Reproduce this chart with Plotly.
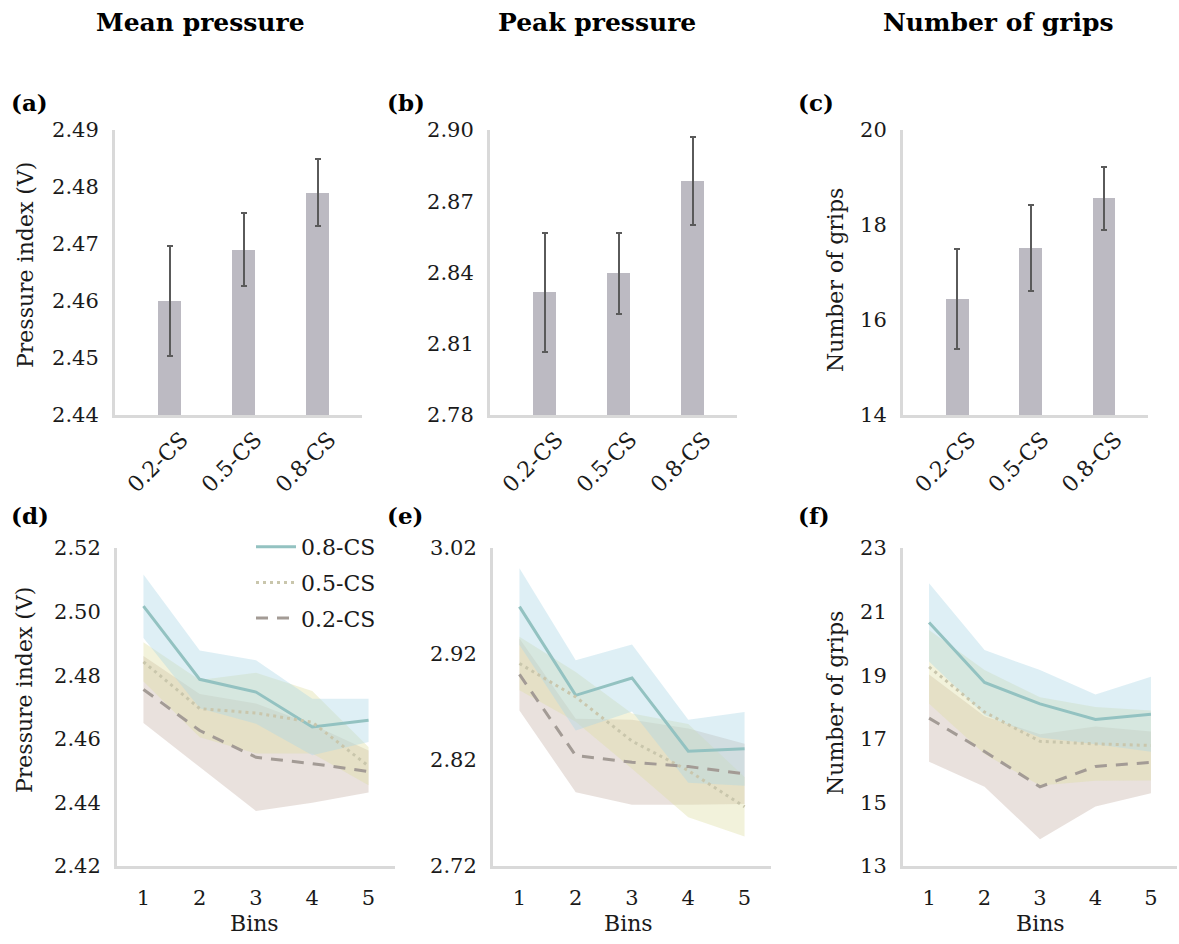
import plotly.graph_objects as go

# ---------------- data ----------------
conditions = ["0.2-CS", "0.5-CS", "0.8-CS"]
bins = [1, 2, 3, 4, 5]

# top row (bar charts): mean and error
bar_mean_pressure = [2.460, 2.469, 2.479]
bar_mean_pressure_err = [0.0097, 0.0064, 0.0059]
bar_peak_pressure = [2.8316, 2.8396, 2.8785]
bar_peak_pressure_err = [0.025, 0.0171, 0.0184]
bar_grips = [16.45, 17.52, 18.56]
bar_grips_err = [1.05, 0.90, 0.67]

# bottom row (lines with bands)
mp_08 = [2.5017, 2.4787, 2.4747, 2.4637, 2.4658]
mp_08_err = [0.0100, 0.0091, 0.0100, 0.0089, 0.0068]
mp_05 = [2.4842, 2.4695, 2.4681, 2.4652, 2.4514]
mp_05_err = [0.0062, 0.0090, 0.0127, 0.0098, 0.0060]
mp_02 = [2.4755, 2.4626, 2.4542, 2.4522, 2.4497]
mp_02_err = [0.0105, 0.0115, 0.0169, 0.0123, 0.0066]

pp_08 = [2.9647, 2.8810, 2.8974, 2.8283, 2.8305]
pp_08_err = [0.0363, 0.0332, 0.0316, 0.0297, 0.0347]
pp_05 = [2.9110, 2.8795, 2.8378, 2.8100, 2.7759]
pp_05_err = [0.0253, 0.0235, 0.0260, 0.0440, 0.0280]
pp_02 = [2.9007, 2.8242, 2.8179, 2.8138, 2.8069]
pp_02_err = [0.0339, 0.0347, 0.0401, 0.0360, 0.0285]

ng_08 = [20.66, 18.77, 18.10, 17.61, 17.77]
ng_08_err = [1.23, 1.02, 1.06, 0.78, 1.18]
ng_05 = [19.26, 17.84, 16.92, 16.84, 16.79]
ng_05_err = [1.16, 1.32, 1.39, 1.16, 1.10]
ng_02 = [17.65, 16.60, 15.49, 16.13, 16.26]
ng_02_err = [1.37, 1.11, 1.65, 1.26, 0.97]

column_titles = ["Mean pressure", "Peak pressure", "Number of grips"]
panel_labels = ["(a)", "(b)", "(c)", "(d)", "(e)", "(f)"]

# ---------------- style ----------------
FONT = "DejaVu Serif"
TXT = "#1a1a1a"
AXIS_COL = "#d9d9d9"
BAR_COL = "#bcbac2"
ERR_COL = "#5a5a5a"
styles = {
    "0.8-CS": dict(color="#93c2c1", dash="solid", fill="rgba(173,216,230,0.40)"),
    "0.5-CS": dict(color="#c9c6ac", dash="3px,4px", fill="rgba(222,222,165,0.40)"),
    "0.2-CS": dict(color="#a39b95", dash="12px,9px", fill="rgba(200,180,170,0.40)"),
}

W, H = 1179, 944


def px_x(a, b):
    return [a / W, b / W]


def px_y(top, bottom):
    return [1 - bottom / H, 1 - top / H]


fig = go.Figure()

# ---- top row bars ----
top_data = [
    (bar_mean_pressure, bar_mean_pressure_err),
    (bar_peak_pressure, bar_peak_pressure_err),
    (bar_grips, bar_grips_err),
]
for i, (vals, errs) in enumerate(top_data):
    fig.add_trace(go.Bar(
        x=[0, 1, 2], y=vals, width=0.31,
        marker=dict(color=BAR_COL, line=dict(width=0)),
        error_y=dict(type="data", array=errs, color=ERR_COL, thickness=2, width=3),
        xaxis=f"x{i+1}", yaxis=f"y{i+1}", showlegend=False, hoverinfo="skip",
    ))

# ---- bottom row lines + bands ----
bottom_data = [
    {"0.8-CS": (mp_08, mp_08_err), "0.5-CS": (mp_05, mp_05_err), "0.2-CS": (mp_02, mp_02_err)},
    {"0.8-CS": (pp_08, pp_08_err), "0.5-CS": (pp_05, pp_05_err), "0.2-CS": (pp_02, pp_02_err)},
    {"0.8-CS": (ng_08, ng_08_err), "0.5-CS": (ng_05, ng_05_err), "0.2-CS": (ng_02, ng_02_err)},
]
for j, group in enumerate(bottom_data):
    ax = j + 4
    for name in ["0.2-CS", "0.5-CS", "0.8-CS"]:
        m, e = group[name]
        upper = [a + b for a, b in zip(m, e)]
        lower = [a - b for a, b in zip(m, e)]
        fig.add_trace(go.Scatter(
            x=bins + bins[::-1], y=upper + lower[::-1],
            fill="toself", fillcolor=styles[name]["fill"],
            line=dict(width=0), mode="lines",
            xaxis=f"x{ax}", yaxis=f"y{ax}", showlegend=False, hoverinfo="skip",
        ))
    for rank, name in enumerate(["0.8-CS", "0.5-CS", "0.2-CS"]):
        m, e = group[name]
        fig.add_trace(go.Scatter(
            x=bins, y=m, mode="lines", name=name,
            line=dict(color=styles[name]["color"], width=3, dash=styles[name]["dash"]),
            xaxis=f"x{ax}", yaxis=f"y{ax}",
            showlegend=(j == 0), legendgroup=name, legendrank=rank + 1,
        ))

# ---------------- axes ----------------
tickfont = dict(family=FONT, size=21, color=TXT)
common_x = dict(showline=True, linecolor=AXIS_COL, linewidth=3, showgrid=False,
                zeroline=False, ticks="", tickfont=tickfont, automargin=False)
common_y = dict(showline=True, linecolor=AXIS_COL, linewidth=3, showgrid=False,
                zeroline=False, ticks="", tickfont=tickfont, ticklabelstandoff=9,
                automargin=False)

x_domains = [px_x(115, 362), px_x(490, 737), px_x(903, 1148),
             px_x(117, 395), px_x(493, 771), px_x(903, 1177)]
y_top = px_y(130, 415)
y_bot = px_y(548, 866)
y_ranges = [[2.44, 2.49], [2.78, 2.90], [14, 20], [2.42, 2.52], [2.72, 3.02], [13, 23]]
y_dticks = [0.01, 0.03, 2, 0.02, 0.1, 2]
y_formats = [".2f", ".2f", "d", ".2f", ".2f", "d"]
# category tick-label anchor positions (labels sit slightly right of each bar)
cat_label_pos = [0.16, 1.16, 2.16]

lay = {}
for k in range(6):
    n = "" if k == 0 else str(k + 1)
    if k < 3:
        xa = dict(common_x, domain=x_domains[k], range=[-0.74, 2.6],
                  tickvals=cat_label_pos, ticktext=conditions, tickangle=-45,
                  tickfont=dict(family=FONT, size=22, color=TXT),
                  anchor=f"y{k+1}")
        ya = dict(common_y, domain=y_top, range=y_ranges[k], dtick=y_dticks[k],
                  tick0=y_ranges[k][0], tickformat=y_formats[k], anchor=f"x{k+1}")
    else:
        xa = dict(common_x, domain=x_domains[k], range=[0.53, 5.47],
                  tickvals=bins, ticklabelstandoff=11, anchor=f"y{k+1}")
        ya = dict(common_y, domain=y_bot, range=y_ranges[k], dtick=y_dticks[k],
                  tick0=y_ranges[k][0], tickformat=y_formats[k], anchor=f"x{k+1}")
    lay["xaxis" + n] = xa
    lay["yaxis" + n] = ya

fig.update_layout(**lay)

# ---------------- annotations ----------------
ann = []
title_x = [200, 597, 998]
for t, xc in zip(column_titles, title_x):
    ann.append(dict(text=f"<b>{t}</b>", x=xc / W, y=1 - 23 / H, xref="paper", yref="paper",
                    showarrow=False, xanchor="center", yanchor="middle",
                    font=dict(family=FONT, size=25, color="#000")))
label_pos = [(9, 102), (385, 102), (796, 102), (9, 515), (385, 515), (796, 515)]
for lab, (lx, ly) in zip(panel_labels, label_pos):
    ann.append(dict(text=f"<b>{lab}</b>", x=lx / W, y=1 - ly / H, xref="paper", yref="paper",
                    showarrow=False, xanchor="left", yanchor="middle",
                    font=dict(family=FONT, size=23, color="#000")))
ytitles = [("Pressure index (V)", 25, 265), ("Number of grips", 835, 280),
           ("Pressure index (V)", 24, 690), ("Number of grips", 835, 703)]
for t, tx, ty in ytitles:
    ann.append(dict(text=t, x=tx / W, y=1 - ty / H, xref="paper", yref="paper",
                    showarrow=False, xanchor="center", yanchor="middle", textangle=-90,
                    font=dict(family=FONT, size=22, color=TXT)))
for bx in [254, 628, 1040]:
    ann.append(dict(text="Bins", x=bx / W, y=1 - 923 / H, xref="paper", yref="paper",
                    showarrow=False, xanchor="center", yanchor="middle",
                    font=dict(family=FONT, size=22, color=TXT)))

fig.update_layout(
    width=W, height=H, autosize=False,
    margin=dict(l=0, r=0, t=0, b=0, pad=0),
    paper_bgcolor="white", plot_bgcolor="white",
    annotations=ann,
    bargap=0,
    legend=dict(x=251 / W, y=1 - 526 / H, xanchor="left", yanchor="top",
                font=dict(family=FONT, size=22, color=TXT), bgcolor="rgba(0,0,0,0)",
                tracegroupgap=4, itemwidth=40, traceorder="grouped"),
)

post = ("document.body.style.margin='0';document.body.style.overflow='hidden';"
        "var gd=document.getElementById('{plot_id}');gd.style.position='fixed';"
        "gd.style.left='0px';gd.style.top='0px';")
fig.write_html("out.html", post_script=post, config={"displayModeBar": False})
